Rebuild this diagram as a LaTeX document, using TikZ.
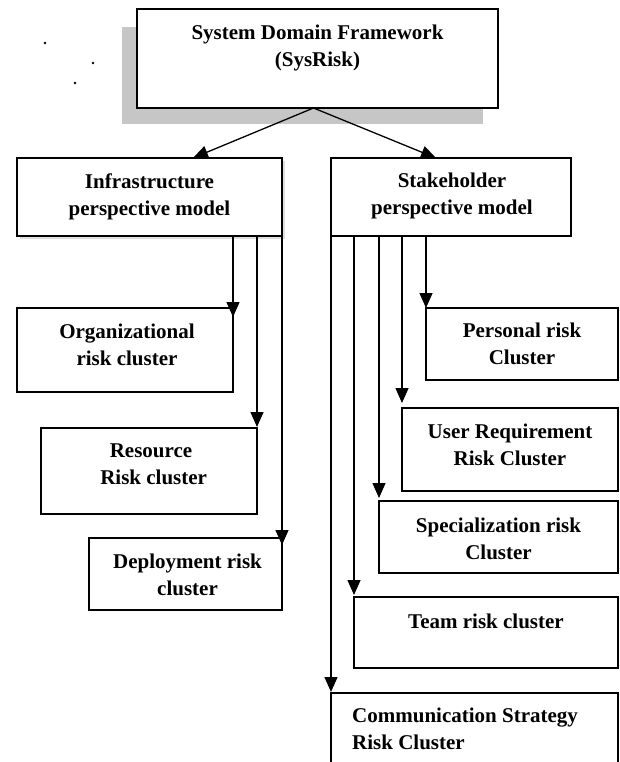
\documentclass[tikz,border=0pt]{standalone}
\usepackage{fontspec}
\setmainfont{Liberation Serif}
\usetikzlibrary{arrows.meta}
\begin{document}
\begin{tikzpicture}[x=1pt,y=-1pt,
  box/.style={draw=black,line width=1.3pt,fill=white,inner sep=0pt,outer sep=0pt,anchor=north west},
  lbl/.style={font=\bfseries\fontsize{21}{27}\selectfont,align=center,inner sep=0pt,anchor=north},
  conn/.style={line width=1.3pt,-{Triangle[length=15pt,width=13pt]}},
  shade/.style={fill=gray!45}]
\useasboundingbox (0,0) rectangle (620,762);
\clip (0,0) rectangle (620,762);
% stray dots
\fill (45,43) circle (1.3pt);
\fill (93,63) circle (1.3pt);
\fill (75,83) circle (1.3pt);
% shadows
\fill[shade] (122,27) rectangle (483,124);
\fill[gray!25] (20,161) rectangle (285,239);
% boxes
\node[box,minimum width=361pt,minimum height=99pt] (top) at (137,9) {};
\node[box,minimum width=265pt,minimum height=78pt] (infra) at (17,158) {};
\node[box,minimum width=240pt,minimum height=78pt] (stake) at (331,158) {};
\node[box,minimum width=216pt,minimum height=84pt] (org) at (17,308) {};
\node[box,minimum width=216pt,minimum height=86pt] (res) at (41,428) {};
\node[box,minimum width=193pt,minimum height=72pt] (dep) at (89,538) {};
\node[box,minimum width=192pt,minimum height=72pt] (pers) at (426,308) {};
\node[box,minimum width=216pt,minimum height=83pt] (user) at (402,408) {};
\node[box,minimum width=239pt,minimum height=72pt] (spec) at (379,501) {};
\node[box,minimum width=264pt,minimum height=71pt] (team) at (354,597) {};
\node[box,minimum width=287pt,minimum height=90pt] (comm) at (331,693) {};
% labels
\node[lbl] (ttop) at ([yshift=-16pt]top.north) {System Domain Framework\\(SysRisk)};
\node[lbl] (tinfra) at ([yshift=-16pt]infra.north) {Infrastructure\\perspective model};
\node[lbl] (tstake) at ([xshift=1pt,yshift=-15pt]stake.north) {Stakeholder\\perspective model};
\node[lbl] (torg) at ([xshift=2pt,yshift=-16pt]org.north) {Organizational\\risk cluster};
\node[lbl] (tres) at ([xshift=2pt,yshift=-16pt]res.north) {Resource\\\ Risk cluster};
\node[lbl] (tdep) at ([xshift=2pt,yshift=-16pt]dep.north) {Deployment risk\\cluster};
\node[lbl] (tpers) at ([yshift=-15pt]pers.north) {Personal risk\\Cluster};
\node[lbl] (tuser) at ([yshift=-16pt]user.north) {User Requirement\\Risk Cluster};
\node[lbl] (tspec) at ([yshift=-17pt]spec.north) {Specialization risk\\Cluster};
\node[lbl] (tteam) at ([yshift=-17pt]team.north) {Team risk cluster};
\node[lbl,align=left,anchor=north west] (tcomm) at ([xshift=21pt,yshift=-15pt]comm.north west) {Communication Strategy\\Risk Cluster};
% connectors
\coordinate (src) at ([xshift=-4pt]top.south);
\draw[conn] (src) -- ([xshift=176pt]infra.north west);
\draw[conn] (src) -- ([xshift=105pt]stake.north west);
\draw[conn] ([xshift=216pt]infra.south west) -- ([yshift=-9pt]org.north east);
\draw[conn] ([xshift=240pt]infra.south west) -- ([yshift=1pt]res.north east);
\draw[conn] (infra.south east) -- ([yshift=-7pt]dep.north east);
\draw[conn] (stake.south west) -- ([yshift=1pt]comm.north west);
\draw[conn] ([xshift=23pt]stake.south west) -- ([yshift=2pt]team.north west);
\draw[conn] ([xshift=48pt]stake.south west) -- ([yshift=3pt]spec.north west);
\draw[conn] ([xshift=71pt]stake.south west) -- ([yshift=5pt]user.north west);
\draw[conn] ([xshift=95pt]stake.south west) -- (pers.north west);
\end{tikzpicture}
\end{document}
